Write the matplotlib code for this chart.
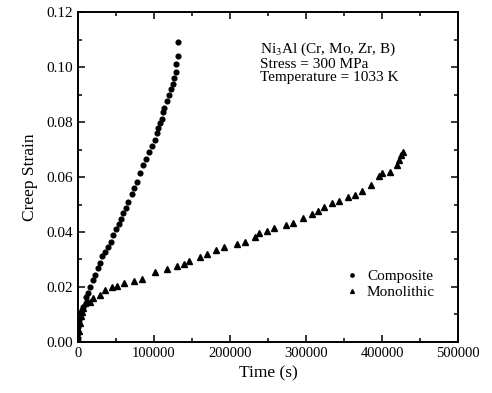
import matplotlib
matplotlib.use('Agg')
import matplotlib.pyplot as plt
from matplotlib.ticker import MultipleLocator

plt.rcParams['font.family'] = ['Liberation Serif', 'DejaVu Serif']
plt.rcParams['mathtext.fontset'] = 'stix'

# ---------------------------------------------------------------------------
# Datos
# ---------------------------------------------------------------------------
t_comp = [0, 0, 500, 900, 2600, 4800, 7000, 10100, 12700, 15800,
          19300, 22400, 25900, 29000, 32000, 35500, 39000, 43000, 46500, 50000,
          53500, 56600, 59600, 62700, 66200, 70600, 73700, 77200, 81600, 86000,
          89500, 93900, 97800, 101300, 103500, 105700, 107900, 110100, 112300, 113600,
          116700, 119700, 122400, 124600, 126700, 128500, 129400, 131000, 131000]
s_comp = [0.0015, 0.0033, 0.0056, 0.008, 0.0104, 0.0116, 0.0128, 0.0165, 0.0179, 0.0201,
          0.0225, 0.0244, 0.0268, 0.0286, 0.0313, 0.0328, 0.0347, 0.0365, 0.0389, 0.0411,
          0.0429, 0.0447, 0.0468, 0.0486, 0.051, 0.054, 0.0559, 0.0583, 0.0613, 0.0644,
          0.0665, 0.069, 0.0713, 0.0735, 0.0759, 0.0779, 0.0798, 0.0811, 0.0835, 0.0853,
          0.0878, 0.090, 0.0919, 0.094, 0.096, 0.0984, 0.101, 0.104, 0.109]

t_mono = [0, 1000, 2000, 3500, 5000, 7000, 9500, 12000, 15800, 20200,
          29000, 35500, 44300, 51800, 60500, 73700, 83800, 101300, 117500, 129800,
          139500, 146500, 160500, 169300, 181200, 192500, 208800, 219700, 232900, 238600,
          248300, 257900, 273300, 282500, 296000, 308300, 316200, 323700, 334400, 343800,
          355000, 365000, 374000, 386000, 396000, 400400, 410500, 419300, 422400, 425000,
          427600]
s_mono = [0.001, 0.004, 0.007, 0.0095, 0.011, 0.0125, 0.014, 0.0148, 0.0147, 0.0159,
          0.0171, 0.0189, 0.0199, 0.0204, 0.0213, 0.0223, 0.023, 0.0253, 0.0264, 0.0276,
          0.0284, 0.0296, 0.0308, 0.032, 0.0335, 0.0347, 0.0355, 0.0365, 0.0383, 0.0395,
          0.0404, 0.0416, 0.0425, 0.0434, 0.045, 0.0465, 0.0476, 0.049, 0.0504, 0.0513,
          0.0528, 0.0535, 0.055, 0.0571, 0.0603, 0.0616, 0.062, 0.0644, 0.0662, 0.068,
          0.0692]

x_ticks = [0, 100000, 200000, 300000, 400000, 500000]
y_ticks = [0.00, 0.02, 0.04, 0.06, 0.08, 0.10, 0.12]

# ---------------------------------------------------------------------------
# Grafica
# ---------------------------------------------------------------------------
fig = plt.figure(figsize=(4.92, 3.93), dpi=100)
ax = fig.add_axes([0.1585, 0.13, 0.7725, 0.839])

ax.plot(t_comp, s_comp, 'o', color='black', markersize=3.4, linestyle='none',
        label='Composite')
ax.plot(t_mono, s_mono, '^', color='black', markersize=3.9, linestyle='none',
        label='Monolithic')

ax.set_xlim(0, 500000)
ax.set_ylim(0, 0.12)
ax.set_xticks(x_ticks)
ax.set_xticklabels([str(v) for v in x_ticks])
ax.set_yticks(y_ticks)
ax.set_yticklabels([f"{v:.2f}" for v in y_ticks])
ax.xaxis.set_minor_locator(MultipleLocator(50000))
ax.yaxis.set_minor_locator(MultipleLocator(0.01))
ax.tick_params(which='both', direction='in', top=True, right=True, width=1.1)
ax.tick_params(which='major', length=5, labelsize=10.5)
ax.tick_params(which='minor', length=3)
ax.tick_params(axis='y', labelsize=11)
for sp in ax.spines.values():
    sp.set_linewidth(1.4)

ax.set_xlabel("Time (s)", fontsize=12.5, labelpad=4)
ax.set_ylabel("Creep Strain", fontsize=12.5, labelpad=6)

ax.text(0.479, 0.915, "Ni$_3$Al (Cr, Mo, Zr, B)\nStress = 300 MPa\nTemperature = 1033 K",
        transform=ax.transAxes, fontsize=11, va='top', ha='left', linespacing=1.0)

ax.legend(loc='center left', bbox_to_anchor=(0.66, 0.175), frameon=False,
          fontsize=11, handletextpad=0.4, markerscale=0.7, labelspacing=0.15,
          handlelength=1.2)

fig.savefig("out.png", dpi=100)
